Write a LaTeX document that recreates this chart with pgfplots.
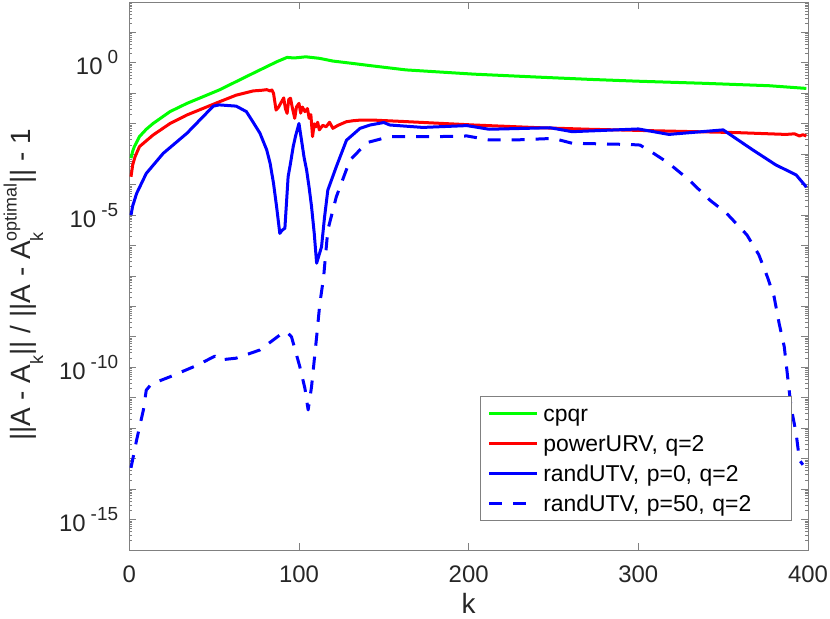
\documentclass[border=0pt]{standalone}
\usepackage{pgfplots}
\pgfplotsset{compat=1.18}
\usepackage{fontspec}
\setmainfont{Liberation Sans}
\definecolor{axgray}{gray}{0.5}
\definecolor{txt}{gray}{0.15}
\definecolor{mgreen}{rgb}{0,1,0}
\definecolor{mred}{rgb}{1,0,0}
\definecolor{mblue}{rgb}{0,0,1}
\newcommand{\tl}[1]{10\hspace{5bp}\raisebox{11bp}{\fontsize{19}{19}\selectfont #1}}
\newcommand{\sbk}[1]{\raisebox{-13bp}{\fontsize{18}{18}\selectfont #1}}
\newcommand{\spk}[1]{\raisebox{13.5bp}{\fontsize{18}{18}\selectfont #1}}
\begin{document}
\begin{tikzpicture}
\useasboundingbox (0,0) rectangle (830bp,619bp);
\begin{axis}[
  at={(129.3bp,69bp)}, anchor=south west,
  width=678.7bp, height=548bp, scale only axis,
  xmin=0, xmax=400, ymode=log, ymin=1e-16, ymax=1e2,
  xtick={0,100,200,300,400},
  xticklabels={0,100,200,300,400},
  ytick={1e-16,1e-15,1e-14,1e-13,1e-12,1e-11,1e-10,1e-9,1e-8,1e-7,1e-6,1e-5,1e-4,1e-3,1e-2,1e-1,1,1e1,1e2},
  yticklabels={,\tl{-15},,,,,\tl{-10},,,,,\tl{-5},,,,,\tl{0},,},
  minor tick num=0,
  tick align=inside,
  major tick length=7bp,
  every tick/.style={axgray, line width=0.8bp},
  axis line style={axgray, line width=0.8bp},
  ticklabel style={font=\fontsize{24}{28}\selectfont, text=txt},
  xticklabel style={anchor=base, yshift=-32bp, inner sep=0pt},
  yticklabel style={anchor=east, inner sep=0pt, xshift=-11bp},
  xlabel={k},
  xlabel style={at={(axis description cs:0.5,0)}, anchor=base, yshift=-63bp, font=\fontsize{28}{32}\selectfont, text=txt, inner sep=0pt, text depth=0pt},
  ylabel={||A - A\sbk{k}|| / ||A - A\rlap{\sbk{k}}\spk{optimal}|| - 1},
  ylabel style={at={(axis description cs:-0.1560,0.484)}, anchor=center, font=\fontsize{28}{32}\selectfont, text=txt, inner sep=0pt},
  legend style={at={(0.976,0.2816)}, anchor=north east, draw=axgray, line width=0.8bp, fill=white, inner sep=3bp,
    font=\fontsize{23}{27}\selectfont, text=black, row sep=2bp, column sep=5bp,
    nodes={text height=22bp, text depth=6bp, inner sep=0pt, text width=245bp, align=left}},
  legend cell align=left,
  legend image code/.code={\path (-4.4bp,0bp); \draw[#1] (0bp,0bp) -- (47.6bp,0bp);},
  every axis plot/.append style={line width=3bp, line join=round},
]
\addplot[mgreen] coordinates {(1,7.41e-4)(2,1.26e-3)(3,1.78e-3)(6,3.80e-3)(10,6.6e-3)(14,1.02e-2)(24,2.51e-2)(34,4.68e-2)(53,0.129)(73,0.457)(87,1.096)(93,1.514)(97,1.45)(100,1.5)(104,1.585)(112,1.413)(120,1.148)(132,0.955)(142,0.813)(163,0.589)(203,0.427)(242,0.339)(271,0.288)(299,0.251)(338,0.214)(377,0.178)(399,0.145)};
\addlegendentry{cpqr}
\addplot[mred] coordinates {(1,1.82e-4)(2,4.47e-4)(3.4,8.32e-4)(6,1.78e-3)(14,4.27e-3)(24,1.02e-2)(34,1.95e-2)(53,5.25e-2)(63,8.71e-2)(73,0.120)(78,0.126)(81,0.132)(83,0.120)(84,0.129)(85,0.1)(86.5,0.0282)(88,0.0355)(90,0.0562)(91,0.0708)(92,0.0316)(93,0.0219)(94,0.0631)(95,0.0692)(96,0.0355)(97.5,0.0151)(98.5,0.0355)(100,0.0468)(101,0.0224)(102,0.0355)(103.5,0.0251)(105,0.0316)(106,0.0151)(107,0.0200)(108,0.0038)(109,0.0100)(110,0.00794)(111,0.0112)(112,0.00631)(114,0.00891)(116,0.00794)(118,0.0112)(120,0.00708)(123,0.00891)(128,0.0117)(132,0.0126)(136,0.0132)(144,0.0132)(160,0.0120)(203,0.00912)(242,0.00741)(271,0.00661)(318,0.00575)(358,0.00513)(387,0.00447)(392,0.00468)(395,0.00398)(397,0.00437)(399,0.00398)};
\addlegendentry{powerURV, q=2}
\addplot[mblue] coordinates {(1,1e-5)(2,2.0e-5)(4.3,5.13e-5)(10,2.34e-4)(20,1.07e-3)(34,4.90e-3)(49.5,3.80e-2)(53,4.17e-2)(63,3.80e-2)(69,2.51e-2)(73,1.12e-2)(77,4.90e-3)(81,1.38e-3)(83,5.01e-4)(85,1.10e-4)(86.8,1.91e-5)(88.7,2.51e-6)(90,3.16e-6)(91.7,3.72e-6)(93.6,1.82e-4)(95,5.01e-4)(96.6,1.78e-3)(98,3.98e-3)(100,1.02e-2)(101.5,2.88e-3)(103,7.94e-4)(104.5,3.02e-4)(106,7.94e-5)(107.4,1.91e-5)(109,2.51e-6)(110.4,2.63e-7)(113.3,9.12e-7)(115,7.94e-6)(117,6.61e-5)(122,3.89e-4)(128,2.88e-3)(136,7.08e-3)(142,9.12e-3)(150,1.10e-2)(153.5,9.12e-3)(173,7.59e-3)(199,8.71e-3)(212,6.61e-3)(248,7.41e-3)(261,5.50e-3)(300,6.76e-3)(318,4.47e-3)(350,6.31e-3)(367.5,1.38e-3)(381,4.47e-4)(393,2.09e-4)(398,9.77e-5)(399,8.3e-5)};
\addlegendentry{randUTV, p=0, q=2}
\addplot[mblue, dash pattern=on 13bp off 11bp] coordinates {(1,5.0e-14)(4.3,4.07e-13)(8.3,3.98e-12)(10,1.78e-11)(13,2.82e-11)(24,4.90e-11)(40,1.17e-10)(50.5,2.34e-10)(53,1.74e-10)(63,2.0e-10)(77,3.72e-10)(88.7,1.15e-9)(92.7,1.48e-9)(95.6,1.0e-9)(100.5,1.05e-10)(103.5,2.04e-11)(105.4,3.98e-12)(107.4,2.29e-11)(110.4,1.0e-9)(112.3,1.26e-8)(114.5,8.91e-8)(117,3.24e-6)(122,3.98e-5)(130,6.31e-4)(140,2.40e-3)(153.5,3.80e-3)(183,3.80e-3)(199,3.98e-3)(212,2.95e-3)(228,2.95e-3)(250,3.31e-3)(261,2.29e-3)(295,2.09e-3)(301,2.0e-3)(309,1.07e-3)(318,5.01e-4)(330,1.41e-4)(342,3.16e-5)(352,1.15e-5)(364,2.24e-6)(371,5.01e-7)(376,9.55e-8)(380,2.09e-8)(383,2.75e-9)(386,4.79e-10)(388,4.90e-11)(390,5.01e-12)(393,6.76e-13)(395,8.91e-14)(397,6.3e-14)};
\addlegendentry{randUTV, p=50, q=2}
\end{axis}
\end{tikzpicture}
\end{document}
